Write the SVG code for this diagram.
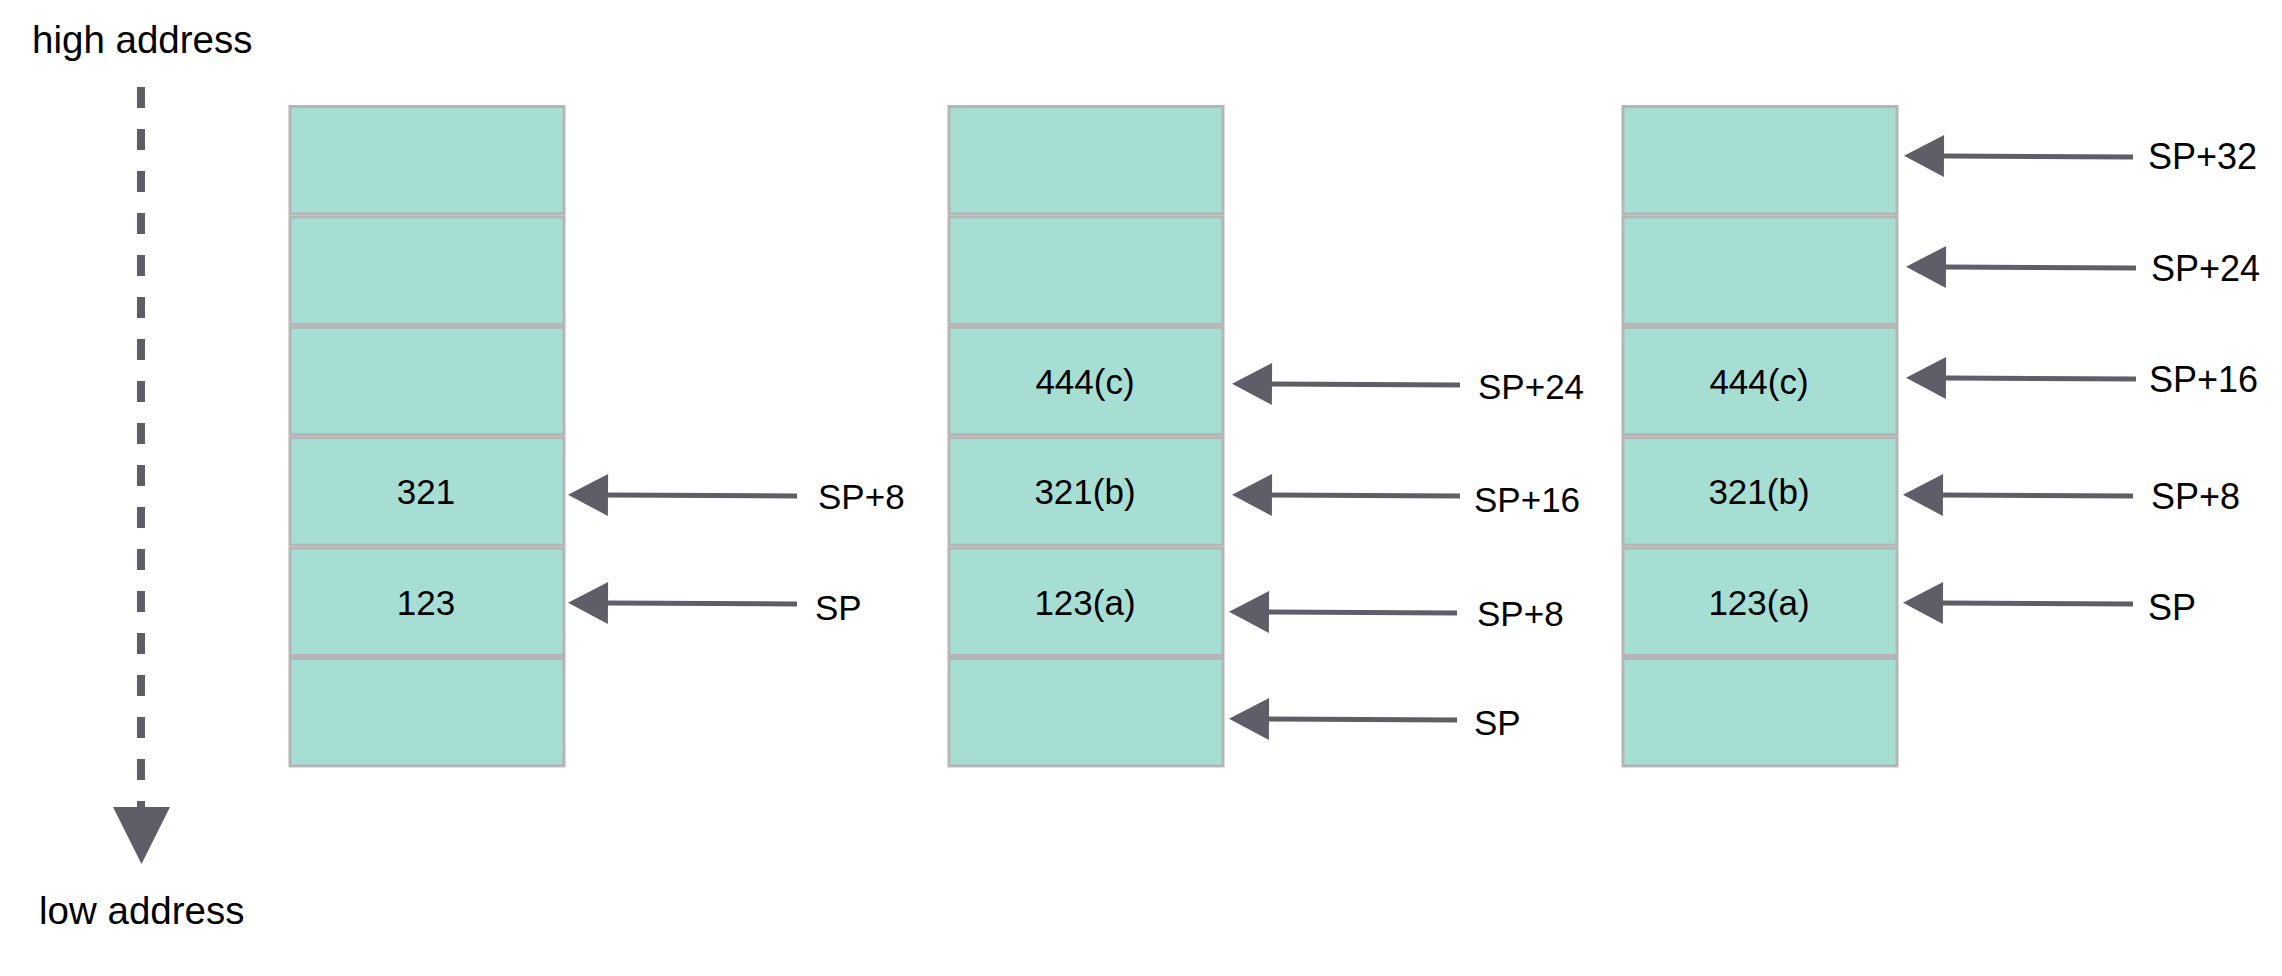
<svg xmlns="http://www.w3.org/2000/svg" width="2282" height="976" viewBox="0 0 2282 976">
<defs>
<style>
.cell{fill:#a6ded4;stroke:#b5b5b5;stroke-width:3}
.t{font-family:"Liberation Sans",Arial,Helvetica,sans-serif;font-size:35px;fill:#000}
.big{font-size:38.5px}
.r{font-size:36px}
.c{text-anchor:middle}
.ar{stroke:#5f5e68;stroke-width:5;fill:none;marker-end:url(#ah)}
</style>
<marker id="ah" markerUnits="userSpaceOnUse" markerWidth="41" markerHeight="44" refX="0" refY="21" orient="auto" overflow="visible">
<path d="M0,0 L40,21 L0,42 Z" fill="#5f5e68"/>
</marker>
</defs>
<rect width="2282" height="976" fill="#fff"/>

<g id="axis">
<line x1="141" y1="87" x2="141" y2="812" stroke="#5f5e68" stroke-width="8" stroke-dasharray="21 21"/>
<path d="M113,807 L170,807 L141.5,864 Z" fill="#5f5e68"/>
<text class="t big" x="32" y="53">high address</text>
<text class="t big" x="39" y="924">low address</text>
</g>

<g id="stack1">
<rect class="cell" x="290" y="106.5" width="274" height="107.4"/>
<rect class="cell" x="290" y="216.9" width="274" height="107.4"/>
<rect class="cell" x="290" y="327.3" width="274" height="107.4"/>
<rect class="cell" x="290" y="437.7" width="274" height="107.4"/>
<rect class="cell" x="290" y="548.1" width="274" height="107.4"/>
<rect class="cell" x="290" y="658.5" width="274" height="107.4"/>
<text class="t c" x="426" y="504">321</text>
<text class="t c" x="426" y="615">123</text>
</g>

<g id="stack2">
<rect class="cell" x="949" y="106.5" width="274" height="107.4"/>
<rect class="cell" x="949" y="216.9" width="274" height="107.4"/>
<rect class="cell" x="949" y="327.3" width="274" height="107.4"/>
<rect class="cell" x="949" y="437.7" width="274" height="107.4"/>
<rect class="cell" x="949" y="548.1" width="274" height="107.4"/>
<rect class="cell" x="949" y="658.5" width="274" height="107.4"/>
<text class="t c" x="1085" y="394">444(c)</text>
<text class="t c" x="1085" y="504">321(b)</text>
<text class="t c" x="1085" y="615">123(a)</text>
</g>

<g id="stack3">
<rect class="cell" x="1623" y="106.5" width="274" height="107.4"/>
<rect class="cell" x="1623" y="216.9" width="274" height="107.4"/>
<rect class="cell" x="1623" y="327.3" width="274" height="107.4"/>
<rect class="cell" x="1623" y="437.7" width="274" height="107.4"/>
<rect class="cell" x="1623" y="548.1" width="274" height="107.4"/>
<rect class="cell" x="1623" y="658.5" width="274" height="107.4"/>
<text class="t c" x="1759" y="394">444(c)</text>
<text class="t c" x="1759" y="504">321(b)</text>
<text class="t c" x="1759" y="615">123(a)</text>
</g>

<g id="connectors">
<line class="ar" x1="797" y1="496" x2="608" y2="495"/>
<line class="ar" x1="797" y1="604" x2="608" y2="603"/>
<line class="ar" x1="1460" y1="385" x2="1272" y2="384"/>
<line class="ar" x1="1460" y1="496" x2="1272" y2="495"/>
<line class="ar" x1="1457" y1="613" x2="1269" y2="612"/>
<line class="ar" x1="1457" y1="720" x2="1269" y2="719"/>
<line class="ar" x1="2133" y1="157" x2="1944" y2="156"/>
<line class="ar" x1="2136" y1="268" x2="1946" y2="267"/>
<line class="ar" x1="2136" y1="379" x2="1946" y2="378"/>
<line class="ar" x1="2133" y1="496" x2="1943" y2="495"/>
<line class="ar" x1="2133" y1="604" x2="1943" y2="603"/>
</g>

<g id="labels">
<text class="t" x="818" y="509">SP+8</text>
<text class="t" x="815" y="620">SP</text>
<text class="t" x="1478" y="399">SP+24</text>
<text class="t" x="1474" y="512">SP+16</text>
<text class="t" x="1477" y="626">SP+8</text>
<text class="t" x="1474" y="735">SP</text>
<text class="t r" x="2148" y="169">SP+32</text>
<text class="t r" x="2151" y="281">SP+24</text>
<text class="t r" x="2149" y="392">SP+16</text>
<text class="t r" x="2151" y="509">SP+8</text>
<text class="t r" x="2148" y="620">SP</text>
</g>
</svg>
